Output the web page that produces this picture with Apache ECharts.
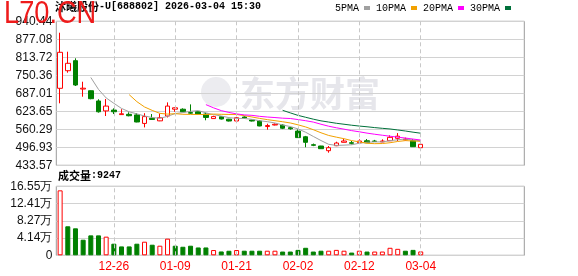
<!DOCTYPE html>
<html><head><meta charset="utf-8">
<script src="https://cdn.jsdelivr.net/npm/echarts@6/dist/echarts.min.js"></script>
<style>html,body{margin:0;padding:0;background:#fff}#c{width:578px;height:276px}</style>
</head><body><div id="c"></div>
<script>
// ---- data ----
const categories = ['12-17','12-18','12-19','12-22','12-23','12-24','12-25','12-26','12-29','12-30','12-31','01-05','01-06','01-07','01-08','01-09','01-12','01-13','01-14','01-15','01-16','01-19','01-20','01-21','01-22','01-23','01-26','01-27','01-28','01-29','01-30','02-02','02-03','02-04','02-05','02-06','02-09','02-10','02-11','02-12','02-13','02-24','02-25','02-26','02-27','03-02','03-03','03-04'];
const tickDates = ['12-26','01-09','01-21','02-02','02-12','03-04'];
const open  = [704.6,766.5,801.8,702,696,660,625,628,612,613,611,581,599,590,607,631,631,619,622,614,598,604.6,596,589.5,603.6,593,589.5,570,575.4,575,566,554,534,506,501.5,485,502.5,514.5,513,513,520,519,516,520,528.6,523,520,495.5];
const close = [831.3,792.6,716.2,705,668,622,642,622,615,608,586,605,595,601,642,636,622,617,614,602,605,596.5,589.5,601,600,589.5,572,573.5,578,564,562,531,514.5,504,492,495.5,512,519,511,519,513,517.5,519,532,536,526,499,507.4];
const low   = [651.8,759.5,712.7,675,666,619,607,614,612,606,585,567,594,589,602,622,621,614,613,592,597,595,588,587,598,588,571,559,574,561,559,530,497,501,491,478,501,514,507,512,512,516,515,519,519,521,498,495];
const high  = [900.3,833.4,810.2,727.8,697,666,667,634,631,620,617,617,614,616,655,637,634,648,623,619,608,606,597,604,606,594,592,580,581,578,569,560,537,510,502,501.5,516.6,526,519,525,526,523,525,539,547,531,526,514.5];
const volume = [155800,69600,64700,37400,47800,47800,44700,27800,21300,21300,27800,32600,25400,23000,39900,23000,20500,23000,18800,18800,12600,9200,10900,12600,11000,11000,11000,11000,11000,9000,9000,13000,18000,9000,11000,11000,13000,11000,6500,11000,9000,9000,9000,18000,15500,11000,13000,9247];
const volUp = [1,0,0,0,0,0,1,0,0,0,0,1,0,1,1,0,0,0,0,0,1,0,0,1,0,0,0,1,1,0,0,0,0,0,0,1,1,1,0,1,0,1,1,1,1,0,0,1];
const priceTicks = ['433.57','496.93','560.29','623.65','687.01','750.36','813.72','877.08','940.44'];
const volTicks = ['0','4.14万','8.27万','12.41万','16.55万'];
const emptySlots = 13;

// ---- build ----
const axisCats = categories.slice();
for (let i = 0; i < emptySlots; i++) axisCats.push('');
const priceVals = priceTicks.map(Number);
const volStep = 41375;

function calcMA(n) {
  return close.map((_, i) => {
    if (i < n - 1) return '-';
    let s = 0;
    for (let j = i - n + 1; j <= i; j++) s += close[j];
    return +(s / n).toFixed(2);
  });
}
const kData = open.map((o, i) => [o, close[i], low[i], high[i]]);
const volData = volume.map((v, i) => ({
  value: v,
  itemStyle: volUp[i] ? {color: '#ffffff', borderColor: '#ff0000', borderWidth: 1}
                      : {color: '#008000', borderColor: '#008000', borderWidth: 1}
}));
const dashLines = tickDates.map(d => ({xAxis: d}));
const markCfg = {
  silent: true, symbol: ['none', 'none'], animation: false,
  label: {show: false},
  lineStyle: {type: [4, 3], color: '#c8c8c8', width: 1},
  emphasis: {disabled: true},
  data: dashLines
};

const L = 56.3, W = 468;
const richTxt = {
  a: {fontFamily: 'Noto Sans CJK SC', fontSize: 11, color: '#000'},
  b: {fontFamily: 'Liberation Mono', fontSize: 10, color: '#000'}
};
const chart = echarts.init(document.getElementById('c'), null, {renderer: 'canvas'});
chart.setOption({
  animation: false,
  backgroundColor: '#ffffff',
  title: [{
    text: '{a|沐曦股份}{b|-U[688802] 2026-03-04 15:30}',
    left: 55, top: 1, padding: 0,
    textStyle: {rich: richTxt}
  }, {
    text: '{a|成交量}{b|:' + volume[volume.length - 1] + '}',
    left: 58, top: 170, padding: 0,
    textStyle: {rich: richTxt}
  }],
  legend: {
    data: ['5PMA', '10PMA', '20PMA', '30PMA'],
    right: 67, top: 3, padding: 0,
    icon: 'rect', itemWidth: 6, itemHeight: 4, itemGap: 6,
    align: 'right',
    textStyle: {fontFamily: 'Liberation Mono', fontSize: 10, color: '#000'},
    selectedMode: false
  },
  graphic: [{
    type: 'circle', x: 216, y: 92, z: -1, silent: true,
    shape: {r: 15}, style: {fill: '#ececf0'}
  }, {
    type: 'text', x: 240, y: 76, z: -1, silent: true,
    style: {text: '东方财富', font: 'bold 35px "Noto Sans CJK SC"', fill: '#e6e6eb', align: 'left', verticalAlign: 'top'}
  }, {
    type: 'text', x: 4, y: -2, scaleX: 0.85, z: 100, silent: true,
    style: {text: 'L70.CN', font: '32px "Liberation Sans"', fill: '#ee1b1b', align: 'left', verticalAlign: 'top'}
  }],
  grid: [
    {left: L, width: W, top: 21.3, height: 144, show: true, borderColor: '#9a9a9a', borderWidth: 1, backgroundColor: 'transparent'},
    {left: L, width: W, top: 186.3, height: 69, show: true, borderColor: '#9a9a9a', borderWidth: 1, backgroundColor: 'transparent'}
  ],
  xAxis: [{
    type: 'category', gridIndex: 0, data: axisCats, boundaryGap: true,
    axisLine: {show: false}, axisTick: {show: false}, axisLabel: {show: false}, splitLine: {show: false}
  }, {
    type: 'category', gridIndex: 1, data: axisCats, boundaryGap: true,
    axisLine: {show: false}, axisTick: {show: false}, splitLine: {show: false},
    axisLabel: {
      interval: (idx, val) => tickDates.indexOf(val) >= 0,
      color: '#ff0000', fontSize: 12, fontFamily: 'Liberation Sans', margin: 5, hideOverlap: false
    }
  }],
  yAxis: [{
    type: 'value', gridIndex: 0, min: priceVals[0], max: priceVals[priceVals.length - 1],
    axisLine: {show: false},
    axisTick: {show: false, customValues: priceVals},
    axisLabel: {customValues: priceVals, formatter: v => {
      const k = priceVals.findIndex(p => Math.abs(p - v) < 0.01);
      return k >= 0 ? priceTicks[k] : '';
    }, color: '#111', fontSize: 12, fontFamily: 'Liberation Sans', margin: 4},
    splitLine: {lineStyle: {color: '#d2d2d2', width: 1}}
  }, {
    type: 'value', gridIndex: 1, min: 0, max: volStep * 4, interval: volStep,
    axisLine: {show: false}, axisTick: {show: false},
    axisLabel: {formatter: v => volTicks[Math.round(v / volStep)] || '',
      color: '#111', fontSize: 12, fontFamily: 'Liberation Sans', margin: 4},
    splitLine: {lineStyle: {color: '#d2d2d2', width: 1}}
  }],
  series: [{
    name: 'K', type: 'candlestick', xAxisIndex: 0, yAxisIndex: 0, barWidth: 5,
    data: kData,
    itemStyle: {color: '#ffffff', color0: '#008000', borderColor: '#ff0000', borderColor0: '#008000', borderWidth: 1},
    markLine: markCfg
  }, {
    name: '5PMA', type: 'line', xAxisIndex: 0, yAxisIndex: 0, data: calcMA(5),
    symbol: 'none', showSymbol: false, color: '#a0a0a0', lineStyle: {width: 1, color: '#a0a0a0'}
  }, {
    name: '10PMA', type: 'line', xAxisIndex: 0, yAxisIndex: 0, data: calcMA(10),
    symbol: 'none', showSymbol: false, color: '#f2a100', lineStyle: {width: 1, color: '#f2a100'}
  }, {
    name: '20PMA', type: 'line', xAxisIndex: 0, yAxisIndex: 0, data: calcMA(20),
    symbol: 'none', showSymbol: false, color: '#ff00ff', lineStyle: {width: 1, color: '#ff00ff'}
  }, {
    name: '30PMA', type: 'line', xAxisIndex: 0, yAxisIndex: 0, data: calcMA(30),
    symbol: 'none', showSymbol: false, color: '#00703a', lineStyle: {width: 1, color: '#00703a'}
  }, {
    name: 'VOL', type: 'bar', xAxisIndex: 1, yAxisIndex: 1, barWidth: 5,
    data: volData,
    markLine: markCfg
  }]
});
</script>
</body></html>
